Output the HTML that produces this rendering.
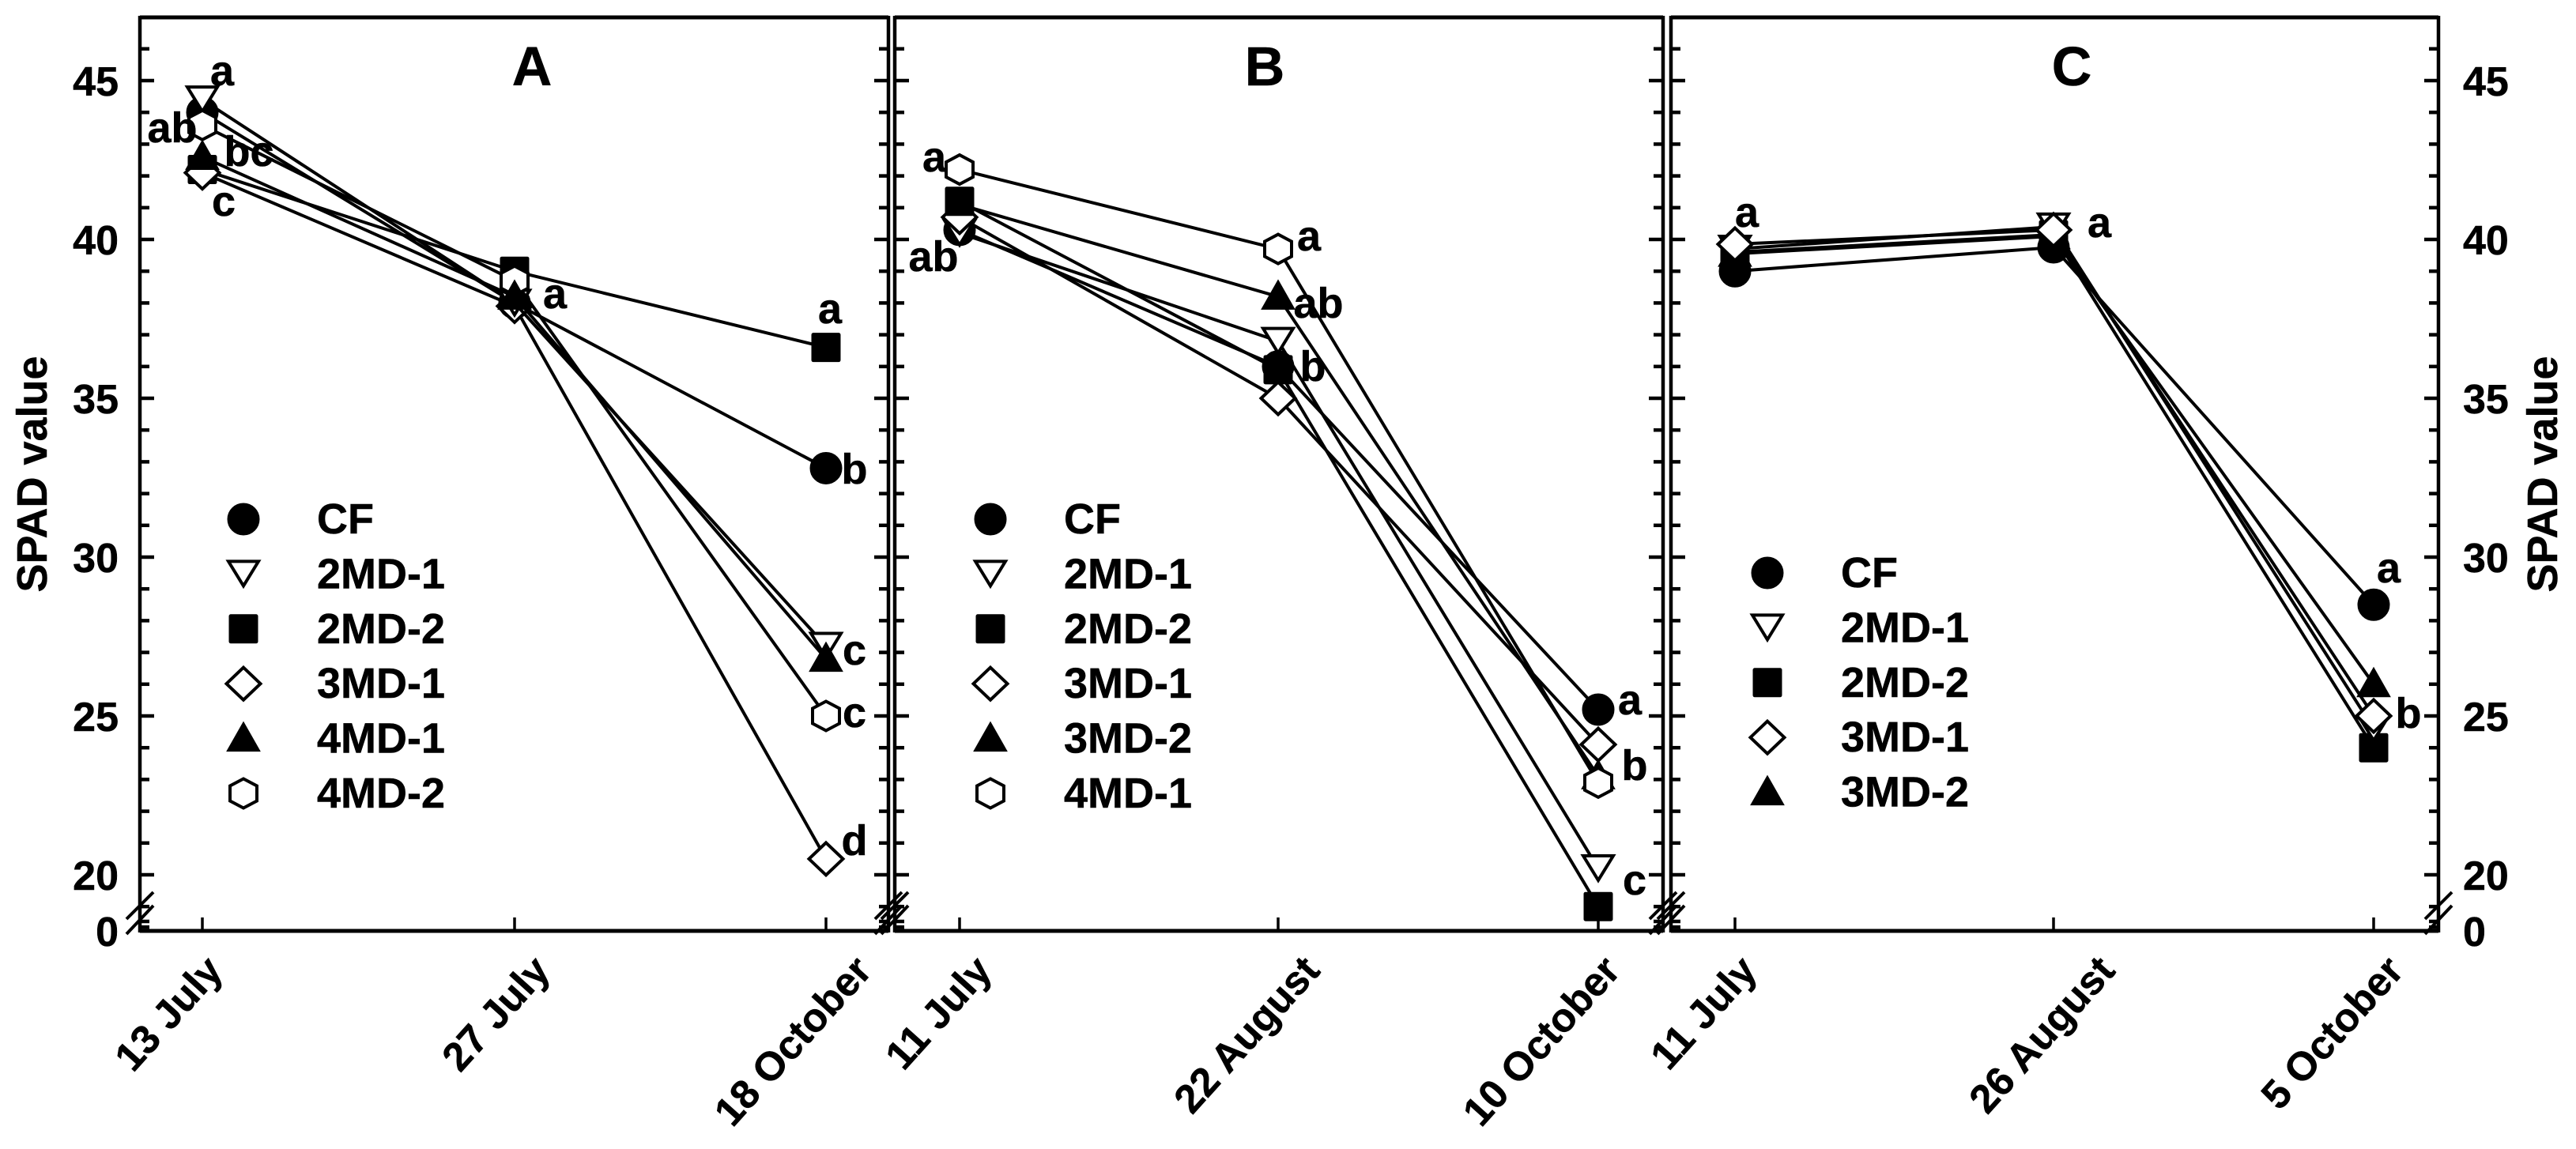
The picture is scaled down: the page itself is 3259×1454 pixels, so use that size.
<!DOCTYPE html>
<html lang="en">
<head>
<meta charset="utf-8">
<title>SPAD value by sampling date</title>
<style>
html,body{margin:0;padding:0;background:#fff;}
svg{display:block;}
text{font-family:"Liberation Sans",sans-serif;font-weight:bold;fill:#000;stroke:#000;stroke-width:0.5px;}
.sig{font-size:54px;text-anchor:middle;}
.ttl{font-size:70px;text-anchor:middle;}
.axt{font-size:54px;text-anchor:middle;}
</style>
</head>
<body>
<svg id="chart" xmlns="http://www.w3.org/2000/svg" width="3259" height="1454" viewBox="0 0 3259 1454">
<rect x="0" y="0" width="3259" height="1454" fill="#fff"/>
<g id="plot"></g>
<text class="ttl" x="673" y="108">A</text>
<text class="ttl" x="1600" y="108">B</text>
<text class="ttl" x="2621" y="108">C</text>
<text class="axt" transform="translate(59,600) rotate(-90)">SPAD value</text>
<text class="axt" transform="translate(3235,600) rotate(-90)">SPAD value</text>
<g>
<text class="sig" x="281" y="108">a</text>
<text class="sig" x="218" y="180">ab</text>
<text class="sig" x="315" y="210">bc</text>
<text class="sig" x="283" y="273">c</text>
<text class="sig" x="702" y="390">a</text>
<text class="sig" x="1050" y="409">a</text>
<text class="sig" x="1081" y="612">b</text>
<text class="sig" x="1081" y="841">c</text>
<text class="sig" x="1081" y="920">c</text>
<text class="sig" x="1081" y="1082">d</text>
</g>
<g>
<text class="sig" x="1182" y="217">a</text>
<text class="sig" x="1181" y="343">ab</text>
<text class="sig" x="1656" y="317">a</text>
<text class="sig" x="1668" y="402">ab</text>
<text class="sig" x="1661" y="482">b</text>
<text class="sig" x="2062" y="904">a</text>
<text class="sig" x="2068" y="987">b</text>
<text class="sig" x="2068" y="1132">c</text>
</g>
<g>
<text class="sig" x="2210" y="287">a</text>
<text class="sig" x="2656" y="300">a</text>
<text class="sig" x="3022" y="737">a</text>
<text class="sig" x="3047" y="921">b</text>
</g>
</svg>
<script>
// Categories
var datesA = ['13 July', '27 July', '18 October'];
var datesB = ['11 July', '22 August', '10 October'];
var datesC = ['11 July', '26 August', '5 October'];

// Series values, panel A
var a_CF    = [44.0, 38.0, 32.8];
var a_2MD2  = [42.2, 39.0, 36.6];
var a_3MD1  = [42.1, 37.9, 20.5];
var a_2MD1  = [44.4, 38.0, 27.2];
var a_4MD2  = [43.6, 38.7, 25.0];
var a_4MD1  = [42.6, 38.2, 26.8];

// Series values, panel B
var b_CF    = [40.3, 36.0, 25.2];
var b_3MD2  = [41.1, 38.2, 23.1];
var b_2MD1  = [40.2, 36.8, 20.2];
var b_3MD1  = [40.7, 35.0, 24.1];
var b_2MD2  = [41.2, 35.9, 19.0];
var b_4MD1  = [42.2, 39.7, 22.9];

// Series values, panel C
var c_CF    = [39.0, 39.75, 28.5];
var c_2MD2  = [39.6, 40.15, 24.0];
var c_3MD2  = [39.55, 40.1, 26.0];
var c_2MD1  = [39.7, 40.4, 24.6];
var c_3MD1  = [39.85, 40.3, 25.0];

// Legend entries
var legendA = ['CF', '2MD-1', '2MD-2', '3MD-1', '4MD-1', '4MD-2'];
var legendB = ['CF', '2MD-1', '2MD-2', '3MD-1', '3MD-2', '4MD-1'];
var legendC = ['CF', '2MD-1', '2MD-2', '3MD-1', '3MD-2'];

// Y tick labels
var yTickLabels = [0, 20, 25, 30, 35, 40, 45];
var yMinorTicks = [0.4, 1, 19, 21, 22, 23, 24, 26, 27, 28, 29, 31, 32, 33, 34, 36, 37, 38, 39, 41, 42, 43, 44, 46];

var NS = 'http://www.w3.org/2000/svg';
var plot = document.getElementById('plot');
var BASE = 1178, TOP = 22, Y40 = 303, PX = 40.2;

function yScale(v) {
  if (v >= 19) return Y40 + (40 - v) * PX;
  return BASE - v * 12;
}
function make(tag, attrs, parent) {
  var el = document.createElementNS(NS, tag);
  for (var k in attrs) el.setAttribute(k, attrs[k]);
  (parent || plot).appendChild(el);
  return el;
}
function drawLine(x1, y1, x2, y2, w, name, parent) {
  var el = make('line', {x1: x1, y1: y1, x2: x2, y2: y2, stroke: '#000', 'stroke-width': w}, parent);
  
  
  return el;
}
function markerShape(kind, x, y, parent) {
  var sw = 4, el;
  if (kind === 'CF') {
    el = make('circle', {cx: x, cy: y, r: 20, fill: '#000', stroke: '#000', 'stroke-width': 1}, parent);
  } else if (kind === '2MD-1') {
    el = make('polygon', {points: (x-19)+','+(y-16)+' '+(x+19)+','+(y-16)+' '+x+','+(y+15), fill: '#fff', stroke: '#000', 'stroke-width': sw}, parent);
  } else if (kind === '2MD-2') {
    el = make('rect', {x: x-18, y: y-18, width: 36, height: 36, rx: 2, fill: '#000', stroke: '#000', 'stroke-width': 1}, parent);
  } else if (kind === '3MD-1') {
    el = make('polygon', {points: x+','+(y-20.5)+' '+(x+21.5)+','+y+' '+x+','+(y+20.5)+' '+(x-21.5)+','+y, fill: '#fff', stroke: '#000', 'stroke-width': sw}, parent);
  } else if (kind === 'TRI') {
    el = make('polygon', {points: x+','+(y-21)+' '+(x+21)+','+(y+16)+' '+(x-21)+','+(y+16), fill: '#000', stroke: '#000', 'stroke-width': 1}, parent);
  } else {
    el = make('polygon', {points: x+','+(y-18.5)+' '+(x+17)+','+(y-9.5)+' '+(x+17)+','+(y+9.5)+' '+x+','+(y+18.5)+' '+(x-17)+','+(y+9.5)+' '+(x-17)+','+(y-9.5), fill: '#fff', stroke: '#000', 'stroke-width': sw}, parent);
  }
  return el;
}
function drawSeries(prefix, name, kind, values, xs) {
  var g = make('g', {});
  
  
  return {g: g, name: name, kind: kind, values: values, xs: xs};
}
function drawPanel(cfg) {
  // frame
  drawLine(cfg.left, TOP, cfg.right, TOP, 5, cfg.id + '-top-border');
  drawLine(cfg.left, BASE, cfg.right, BASE, 5, cfg.id + '-x-axis');
  drawLine(cfg.left, TOP - 2, cfg.left, BASE + 2, 4.5, cfg.id + '-left-border');
  drawLine(cfg.right, TOP - 2, cfg.right, BASE + 2, 4.5, cfg.id + '-right-border');
  // y ticks on both sides, pointing inward
  [cfg.left, cfg.right].forEach(function (ax, side) {
    var dir = side === 0 ? 1 : -1;
    yMinorTicks.forEach(function (v) {
      drawLine(ax, yScale(v), ax + dir * 12, yScale(v), 4.5, cfg.id + '-minor-tick-' + v);
    });
    yTickLabels.forEach(function (v) {
      if (v === 0) return;
      drawLine(ax, yScale(v), ax + dir * 18, yScale(v), 4.5, cfg.id + '-major-tick-' + v);
    });
  });
  // x ticks and labels
  cfg.dates.forEach(function (d, k) {
    drawLine(cfg.xs[k], BASE - 17, cfg.xs[k], BASE, 3.5, cfg.id + '-x-tick-' + k);
    var t = make('text', {'text-anchor': 'end', 'font-size': 51,
      transform: 'translate(' + (cfg.xs[k] + cfg.shift[k]) + ',1230) rotate(-48)'});
    
    
    t.textContent = d;
  });
  // series lines
  var gs = cfg.series.map(function (s) {
    return drawSeries(cfg.id, s[0], s[1], s[2], cfg.xs);
  });
  gs.forEach(function (s) {
    var pts = s.values.map(function (v, k) { return s.xs[k] + ',' + yScale(v); }).join(' ');
    var pl = make('polyline', {points: pts, fill: 'none', stroke: '#000', 'stroke-width': 4}, s.g);
    
    
  });
  // series markers
  gs.forEach(function (s) {
    s.values.forEach(function (v, k) {
      var m = markerShape(s.kind, s.xs[k], yScale(v), s.g);
      
      
    });
  });
  // legend
  cfg.legend.forEach(function (name, r) {
    var y = cfg.legendTop + r * 69.4;
    var kind = cfg.kinds[name];
    var m = markerShape(kind, cfg.legendX, y);
    
    
    var t = make('text', {x: cfg.legendX + 93, y: y + 18, 'font-size': 54});
    
    
    t.textContent = name;
  });
}
function drawBreak(x, name) {
  drawLine(x - 17, 1163, x + 17, 1129, 4, name + '-slash-upper');
  drawLine(x - 17, 1182, x + 17, 1146, 4, name + '-slash-lower');
}
function drawYLabels(x, anchor, name) {
  yTickLabels.forEach(function (v) {
    var t = make('text', {x: x, y: yScale(v) + 19, 'text-anchor': anchor, 'font-size': 52});
    
    
    t.textContent = v;
  });
}

drawPanel({id: 'panel-a', left: 177, right: 1124, xs: [256, 651, 1045], dates: datesA, shift: [28, 47, 60],
  series: [['CF', 'CF', a_CF], ['2MD-2', '2MD-2', a_2MD2], ['3MD-1', '3MD-1', a_3MD1], ['2MD-1', '2MD-1', a_2MD1], ['4MD-2', 'HEX', a_4MD2], ['4MD-1', 'TRI', a_4MD1]],
  legend: legendA, legendX: 308, legendTop: 657,
  kinds: {'CF': 'CF', '2MD-1': '2MD-1', '2MD-2': '2MD-2', '3MD-1': '3MD-1', '4MD-1': 'TRI', '4MD-2': 'HEX'}});
drawPanel({id: 'panel-b', left: 1132, right: 2104, xs: [1214, 1617, 2022], dates: datesB, shift: [43, 55, 30],
  series: [['CF', 'CF', b_CF], ['3MD-2', 'TRI', b_3MD2], ['2MD-1', '2MD-1', b_2MD1], ['3MD-1', '3MD-1', b_3MD1], ['2MD-2', '2MD-2', b_2MD2], ['4MD-1', 'HEX', b_4MD1]],
  legend: legendB, legendX: 1253, legendTop: 657,
  kinds: {'CF': 'CF', '2MD-1': '2MD-1', '2MD-2': '2MD-2', '3MD-1': '3MD-1', '3MD-2': 'TRI', '4MD-1': 'HEX'}});
drawPanel({id: 'panel-c', left: 2114, right: 3085, xs: [2195, 2598, 3003], dates: datesC, shift: [30, 80, 40],
  series: [['CF', 'CF', c_CF], ['2MD-2', '2MD-2', c_2MD2], ['3MD-2', 'TRI', c_3MD2], ['2MD-1', '2MD-1', c_2MD1], ['3MD-1', '3MD-1', c_3MD1]],
  legend: legendC, legendX: 2236, legendTop: 725,
  kinds: {'CF': 'CF', '2MD-1': '2MD-1', '2MD-2': '2MD-2', '3MD-1': '3MD-1', '3MD-2': 'TRI'}});

drawBreak(177, 'break-left');
drawBreak(1124, 'break-ab-left');
drawBreak(1132, 'break-ab-right');
drawBreak(2104, 'break-bc-left');
drawBreak(2114, 'break-bc-right');
drawBreak(3085, 'break-right');

drawYLabels(150, 'end', 'y-tick-label-left');
drawYLabels(3116, 'start', 'y-tick-label-right');
</script>
</body>
</html>
